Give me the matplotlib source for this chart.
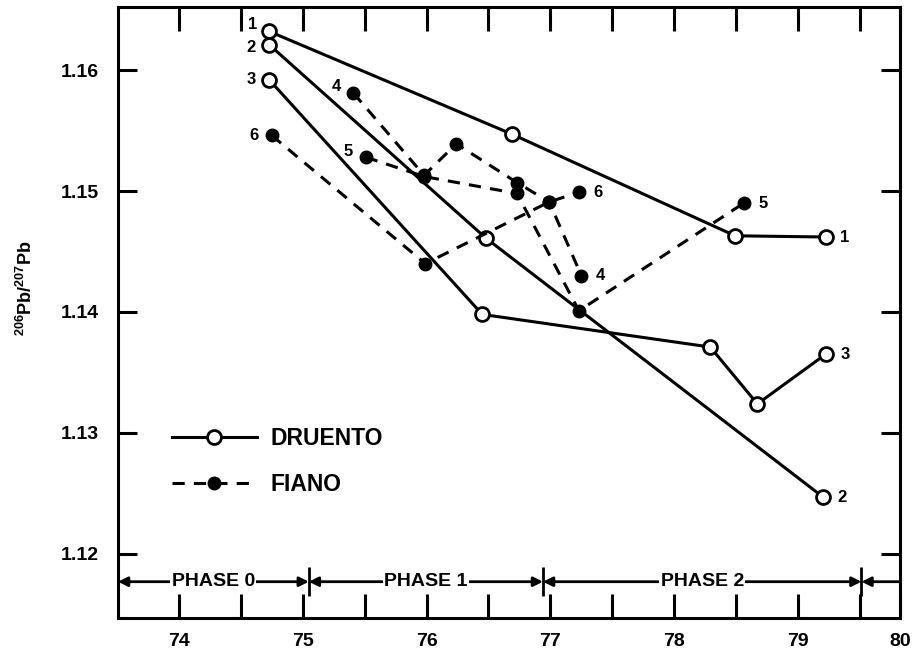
"""
206Pb/207Pb ratios at Druento and Fiano, phases 0-2
"""

import matplotlib
matplotlib.use('Agg')
import matplotlib.pyplot as plt

plt.rcParams['font.family'] = ['Liberation Sans', 'DejaVu Sans']
plt.rcParams['font.weight'] = 'bold'
plt.rcParams['mathtext.fontset'] = 'custom'
plt.rcParams['mathtext.rm'] = 'Liberation Sans:bold'
plt.rcParams['mathtext.bf'] = 'Liberation Sans:bold'

# Druento sites (open circles, solid lines)
d1_x = [74.73, 76.69, 78.49, 79.22]
d1_y = [1.1632, 1.1547, 1.1463, 1.1462]
d2_x = [74.73, 76.48, 79.20]
d2_y = [1.1621, 1.1461, 1.1247]
d3_x = [74.73, 76.45, 78.29, 78.67, 79.22]
d3_y = [1.1592, 1.1398, 1.1371, 1.1324, 1.1365]

# Fiano sites (filled circles, dashed lines)
f4_x = [75.41, 75.98, 76.24, 76.73, 76.99, 77.25]
f4_y = [1.1581, 1.1513, 1.1539, 1.1507, 1.1491, 1.1430]
f5_x = [75.51, 75.98, 76.73, 77.23, 78.56]
f5_y = [1.1528, 1.1512, 1.1498, 1.1401, 1.1490]
f6_x = [74.75, 75.99, 76.99, 77.23]
f6_y = [1.1546, 1.1440, 1.1491, 1.1499]

druento = [('1', d1_x, d1_y), ('2', d2_x, d2_y), ('3', d3_x, d3_y)]
fiano = [('4', f4_x, f4_y), ('5', f5_x, f5_y), ('6', f6_x, f6_y)]

# offsets (points) of the site number at the first point
start_offsets = {'1': (-12, 5), '2': (-13, -2), '3': (-13, 0),
                 '4': (-12, 5), '5': (-13, 4), '6': (-13, 0)}

phase_names = ['PHASE 0', 'PHASE 1', 'PHASE 2']
phase_edges = [75.05, 76.94, 79.51]   # right edge of each phase
phase_y = 1.1177

year_ticks = [74, 75, 76, 77, 78, 79]
year_labels = ['74', '75', '76', '77', '78', '79', '80']
ratio_ticks = [1.12, 1.13, 1.14, 1.15, 1.16]

xmin, xmax = 73.51, 79.82
ymin, ymax = 1.1147, 1.1652

fig = plt.figure(figsize=(9.22, 6.55), dpi=100)
ax = fig.add_axes([0.128, 0.0565, 0.848, 0.9325])

for i, (name, xs, ys) in enumerate(druento):
    ax.plot(xs, ys, color='black', lw=2.2, marker='o', ms=10, mfc='white',
            mec='black', mew=2, label='DRUENTO' if i == 0 else None, zorder=3)
for i, (name, xs, ys) in enumerate(fiano):
    ax.plot(xs, ys, color='black', lw=2.2, ls=(0, (4, 3)), marker='o', ms=9,
            mfc='black', mec='black', label='FIANO' if i == 0 else None, zorder=3)

for name, xs, ys in druento + fiano:
    ax.annotate(name, (xs[0], ys[0]), xytext=start_offsets[name],
                textcoords='offset points', ha='center', va='center',
                fontsize=12, fontweight='bold')
    ax.annotate(name, (xs[-1], ys[-1]), xytext=(14, 0),
                textcoords='offset points', ha='center', va='center',
                fontsize=12, fontweight='bold')

# phase arrows along the bottom
left = xmin
for name, right in zip(phase_names, phase_edges):
    ax.annotate('', xy=(left, phase_y), xytext=(right, phase_y),
                arrowprops=dict(arrowstyle='<|-|>', lw=2, color='black',
                                shrinkA=0, shrinkB=0, mutation_scale=14))
    ax.text((left + right) / 2, phase_y, name, ha='center', va='center',
            fontsize=14, fontweight='bold',
            bbox=dict(facecolor='white', edgecolor='none', pad=1))
    ax.vlines(right, phase_y - 0.0012, phase_y + 0.0012, color='black', lw=2)
    left = right
ax.annotate('', xy=(phase_edges[-1], phase_y), xytext=(xmax, phase_y),
            arrowprops=dict(arrowstyle='-|>', lw=2, color='black',
                            shrinkA=0, shrinkB=0, mutation_scale=14))

ax.set_xlim(xmin, xmax)
ax.set_ylim(ymin, ymax)
ax.set_xticks(year_ticks + [xmax])
ax.set_xticklabels(year_labels)
ax.set_xticks([t + 0.5 for t in year_ticks], minor=True)
ax.set_yticks(ratio_ticks)
ax.set_yticklabels([f'{t:.2f}' for t in ratio_ticks])

ax.tick_params(axis='x', which='both', direction='in', top=True, bottom=True,
               length=17, width=2.2, pad=11, labelsize=14)
ax.tick_params(axis='y', direction='in', left=True, right=True,
               length=14, width=2.2, pad=14, labelsize=14)
for s in ax.spines.values():
    s.set_linewidth(2.2)

ax.set_ylabel(r'$^{206}$Pb/$^{207}$Pb', fontsize=13, fontweight='bold')
ax.yaxis.set_label_coords(-0.105, 0.54)

ax.legend(loc='upper left', bbox_to_anchor=(0.069, 0.313), frameon=False,
          fontsize=16.5, handlelength=3.7, handletextpad=0.6, labelspacing=1.0,
          borderpad=0, borderaxespad=0, numpoints=1)

fig.savefig('out.png', dpi=100)
